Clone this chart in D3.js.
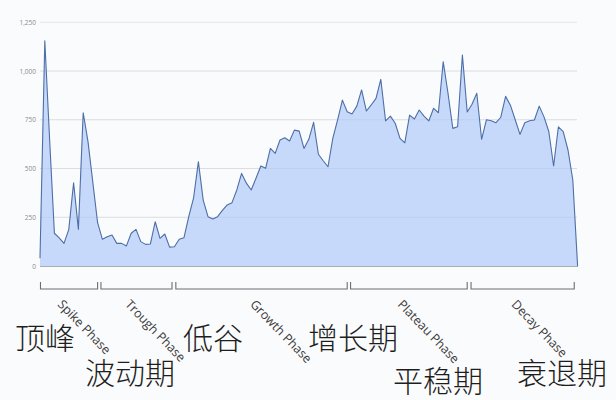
<!DOCTYPE html>
<html>
<head>
<meta charset="utf-8">
<script src="https://cdn.jsdelivr.net/npm/d3@7"></script>
<style>
  html, body { margin: 0; padding: 0; background: #fafbfc; }
  svg { display: block; }
</style>
</head>
<body>
<svg id="chart" width="616" height="400"></svg>
<script>
// ---- data ----
const values = [
  40, 1155, 650, 168, 144, 116, 188, 427, 188, 786,
  638, 430, 222, 137, 150, 159, 116, 116, 103, 168,
  188, 125, 111, 113, 227, 142, 164, 97, 99, 137,
  145, 255, 350, 535, 338, 253, 241, 253, 285, 313,
  325, 390, 475, 425, 390, 450, 513, 501, 603, 578,
  646, 658, 641, 697, 692, 603, 650, 737, 573, 540,
  509, 655, 750, 851, 791, 780, 820, 903, 795, 826,
  860, 957, 744, 769, 732, 655, 632, 774, 754, 800,
  769, 744, 809, 786, 1048, 886, 706, 714, 1082, 790,
  830, 886, 650, 750, 745, 735, 763, 870, 825, 750,
  675, 735, 745, 749, 820, 765, 690, 513, 714, 689,
  595, 441, 0
];
const yTicks = [0, 250, 500, 750, 1000, 1250];
const phaseNames = ["Spike Phase", "Trough Phase", "Growth Phase", "Plateau Phase", "Decay Phase"];
const phaseStart = [0.1, 12.7, 28.3, 64.7, 89.8];
const phaseEnd   = [12.0, 27.5, 64.0, 89.0, 111.3];
const cnLabels = ["顶峰", "波动期", "低谷", "增长期", "平稳期", "衰退期"];

// ---- layout ----
const svg = d3.select("#chart");
const x = d3.scaleLinear().domain([0, values.length - 1]).range([40, 577.6]);
const y = d3.scaleLinear().domain([0, 1250]).range([266, 22.3]);

// gridlines
svg.append("g")
  .selectAll("line").data(yTicks.filter(d => d > 0)).join("line")
  .attr("x1", 40).attr("x2", 577)
  .attr("y1", d => y(d)).attr("y2", d => y(d))
  .attr("stroke", "#e4e6ea").attr("stroke-width", 1);

// area + line
const area = d3.area().x((d, i) => x(i)).y0(y(0)).y1(d => y(d)).curve(d3.curveLinear);
const line = d3.line().x((d, i) => x(i)).y(d => y(d)).curve(d3.curveLinear);
svg.append("path").datum(values).attr("d", area)
  .attr("fill", "#c3d7fa").attr("fill-opacity", 0.95);

// faint gridlines visible through the fill
svg.append("g")
  .selectAll("line").data(yTicks.filter(d => d > 0 && d < 1250)).join("line")
  .attr("x1", 40).attr("x2", 577)
  .attr("y1", d => y(d)).attr("y2", d => y(d))
  .attr("stroke", "#000").attr("stroke-opacity", 0.04).attr("stroke-width", 1);

svg.append("path").datum(values).attr("d", line)
  .attr("fill", "none").attr("stroke", "#4d6ea6").attr("stroke-width", 1.1)
  .attr("stroke-linejoin", "round");

// baseline
svg.append("line").attr("x1", 40).attr("x2", 578).attr("y1", y(0) + 0.5).attr("y2", y(0) + 0.5)
  .attr("stroke", "#a9adb3").attr("stroke-width", 1.2);

// y axis labels
const yAxis = d3.axisLeft(y).tickValues(yTicks).tickSize(0).tickPadding(4)
  .tickFormat(d3.format(","));
const gy = svg.append("g").attr("transform", "translate(40,0)").call(yAxis);
gy.select(".domain").remove();
gy.selectAll("text").attr("font-family", "Open Sans, sans-serif").attr("font-size", 6.5)
  .attr("fill", "#8a8d92");

// phase brackets
const bracketTop = 282, bracketBot = 289;
const br = svg.append("g").attr("stroke", "#6b6e73").attr("stroke-width", 1.1).attr("fill", "none");
phaseNames.forEach((name, k) => {
  const x0 = x(phaseStart[k]), x1 = x(phaseEnd[k]);
  br.append("path").attr("d", `M${x0},${bracketTop}V${bracketBot}H${x1}V${bracketTop}`);
});

// phase labels (rotated)
svg.append("g").selectAll("text").data(phaseNames).join("text")
  .attr("transform", (d, k) => {
    const mid = (x(phaseStart[k]) + x(phaseEnd[k])) / 2;
    return `translate(${mid - 12},${305}) rotate(46)`;
  })
  .attr("font-family", "Open Sans, sans-serif").attr("font-size", 12.5)
  .attr("fill", "#3a3a3a").text(d => d);

// Chinese annotations
const cnPos = [[15, 349], [85, 384], [183, 349], [308, 349], [393, 392], [517, 384]];
svg.append("g").selectAll("text").data(cnLabels).join("text")
  .attr("x", (d, k) => cnPos[k][0]).attr("y", (d, k) => cnPos[k][1])
  .attr("font-family", "Noto Sans CJK SC, sans-serif").attr("font-weight", 300)
  .attr("font-size", 30).attr("fill", "#1e1e1e").text(d => d);
</script>
</body>
</html>
